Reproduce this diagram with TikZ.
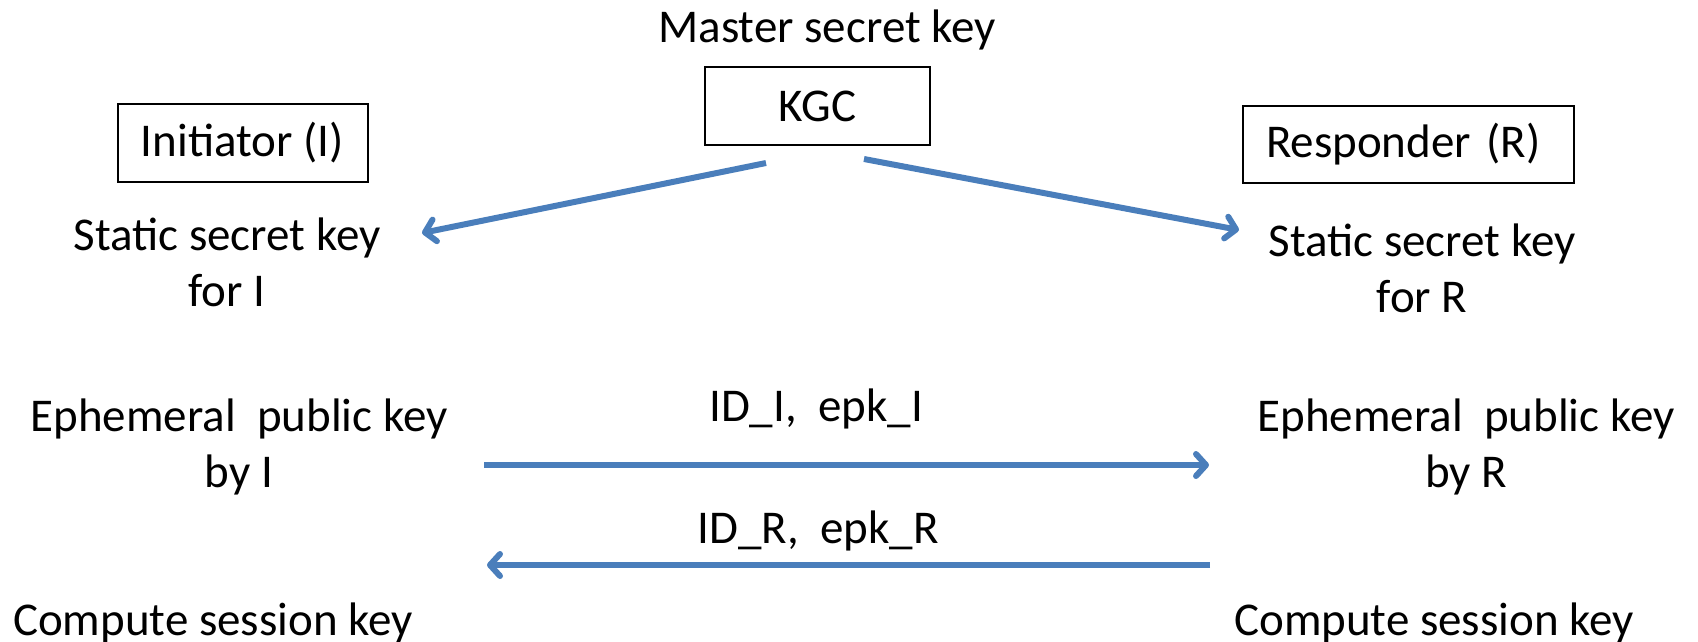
\documentclass[tikz,border=0pt]{standalone}
\usepackage{fontspec}
\setmainfont{Carlito}
\usetikzlibrary{arrows.meta}
\definecolor{arrowblue}{HTML}{4A7EBB}
\begin{document}
\begin{tikzpicture}[x=1pt,y=-1pt,
  txt/.style={font=\fontsize{47}{56}\selectfont, inner sep=0pt, align=center, anchor=base},
  box/.style={draw=black, line width=2pt, inner sep=0pt, font=\fontsize{47}{56}\selectfont},
  flow/.style={draw=arrowblue, line width=6pt, -{Straight Barb[length=10pt,width=22pt,round]}}]
\useasboundingbox (0,0) rectangle (1698,641);

% boxes
\node[box, minimum width=225pt, minimum height=78pt] (kgc) at (817.5,106) {KGC};
\node[box, minimum width=250pt, minimum height=78pt] (init) at (242.5,143) {Initiator (I)};
\node[box, text width=285pt, inner xsep=23pt, align=left, minimum height=77pt] (resp) at (1408.5,144.5) {Responder (R)};

% texts (two-line nodes are placed by the baseline of their last line)
\node[txt] (master) at (827,42) {Master secret key};
\node[txt] (staticI) at (227,306) {Static secret key\\for I};
\node[txt] (staticR) at (1422,312) {Static secret key\\for R};
\node[txt] (ephI) at (239,487) {Ephemeral~~public key\\by I};
\node[txt] (ephR) at (1466,487) {Ephemeral~~public key\\by R};
\node[txt] (msgI) at (816,421) {ID\_I,~~epk\_I};
\node[txt] (msgR) at (818,543) {ID\_R,~~epk\_R};
\node[txt] (compI) at (213,635) {Compute session key};
\node[txt] (compR) at (1434,635) {Compute session key};

% connector ends
\coordinate (kgcL) at (766,163);
\coordinate (kgcR) at (864,159);
\coordinate (sIin) at (422,233);
\coordinate (sRin) at (1239,230);
\coordinate (m1s) at (484,465);
\coordinate (m1e) at (1209,465);
\coordinate (m2s) at (1210,565);
\coordinate (m2e) at (487,565);

\draw[flow] (kgcL) -- (sIin);
\draw[flow] (kgcR) -- (sRin);
\draw[flow] (m1s) -- (m1e);
\draw[flow] (m2s) -- (m2e);
\end{tikzpicture}
\end{document}
